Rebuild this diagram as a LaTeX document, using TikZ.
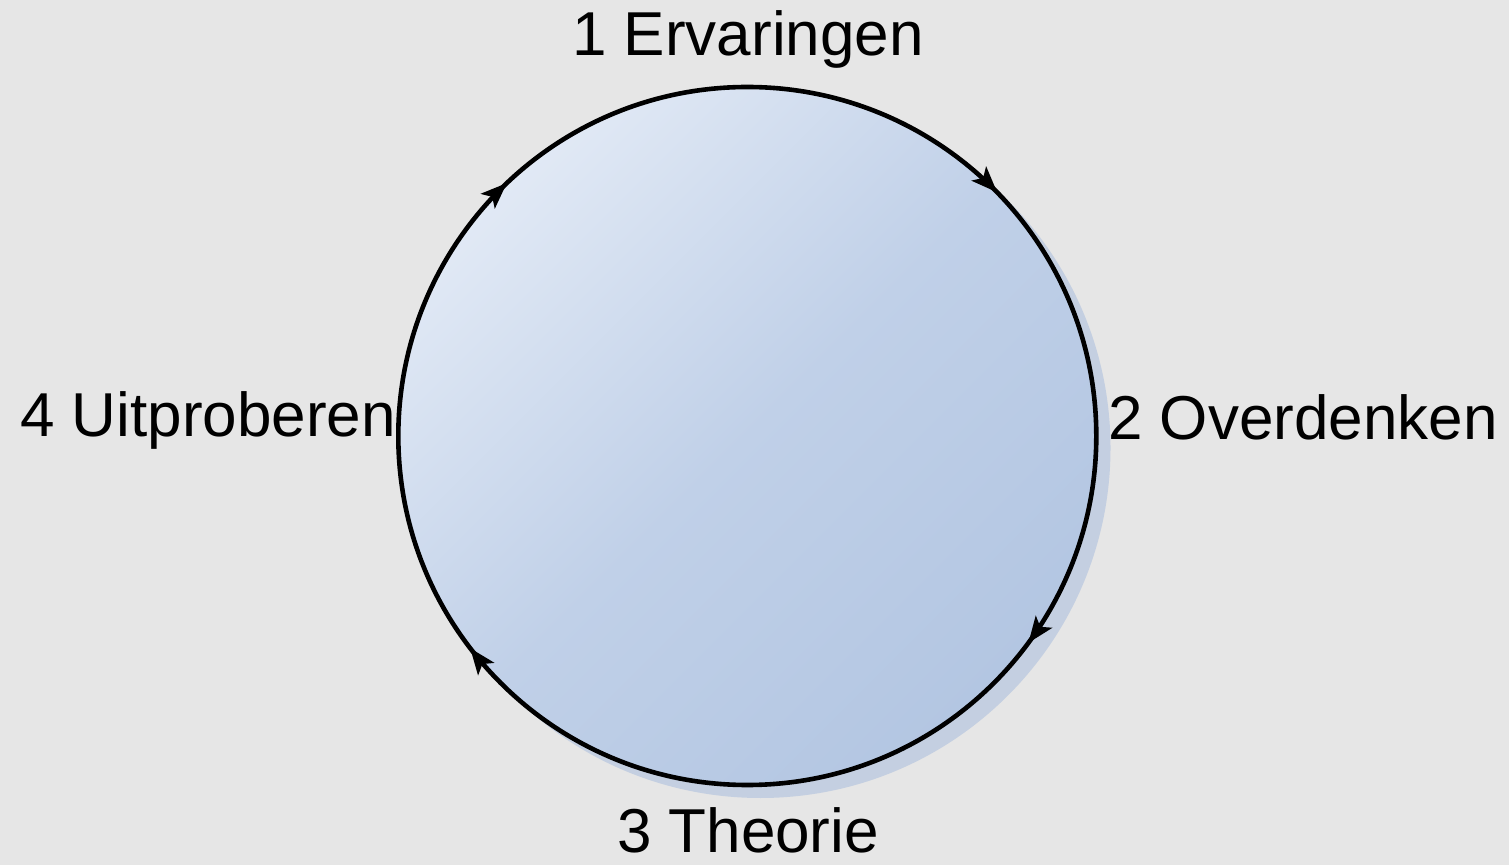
\documentclass[tikz,border=0pt]{standalone}
\usepackage{fontspec}
\setmainfont{Liberation Sans}
\usetikzlibrary{arrows.meta,decorations.markings}
\definecolor{bg}{HTML}{E6E6E6}
\definecolor{shadowcol}{HTML}{C4CFE1}
\definecolor{lightblue}{HTML}{E1E9F5}
\definecolor{midblue}{HTML}{C0D0E8}
\definecolor{darkblue}{HTML}{B3C6E2}
\tikzset{
  x=1pt,y=1pt,
  lbl/.style={inner sep=0pt,font=\fontsize{62}{74}\selectfont},
}
\def\tipshape{Stealth[length=26pt,width=20pt,inset=6pt]}
\begin{document}
\begin{tikzpicture}
\fill[bg] (0,0) rectangle (1509,865);
\useasboundingbox (0,0) rectangle (1509,865);
\coordinate (c) at (747.5,429);
% shadow
\fill[shadowcol] ([shift={(13,-12)}]c) circle (350);
% body
\shade[top color=lightblue,bottom color=darkblue,middle color=midblue,shading angle=45] (c) circle (349);
\node[circle,minimum size=698pt,inner sep=0pt] (cyc) at (c) {};
\draw[line width=4.6pt,
  postaction={decorate},
  decoration={markings,
    mark=at position 0.129 with {\arrow{\tipshape}},
    mark=at position 0.377 with {\arrow{\tipshape}},
    mark=at position 0.601 with {\arrow{\tipshape}},
    mark=at position 0.896 with {\arrow{\tipshape}}}]
  (cyc.west) arc[start angle=180,end angle=-180,radius=349];
% labels
\node[lbl,anchor=base] (l1) at (748,809) {1 Ervaringen};
\node[lbl,anchor=base west] (l2) at (1108,425) {2 Overdenken};
\node[lbl,anchor=base] (l3) at (748,13) {3 Theorie};
\node[lbl,anchor=base east] (l4) at (396,428) {4 Uitproberen};
\end{tikzpicture}
\end{document}
